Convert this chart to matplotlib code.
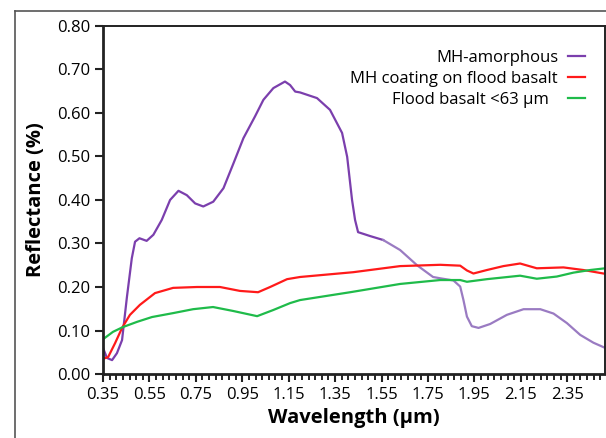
import matplotlib
matplotlib.use('Agg')
import matplotlib.pyplot as plt
from matplotlib.ticker import MultipleLocator, AutoMinorLocator, FormatStrFormatter
from matplotlib.lines import Line2D

plt.rcParams['font.family'] = ['Open Sans', 'DejaVu Sans']

# MH-amorphous
wl_mh = [0.35, 0.367, 0.389, 0.41, 0.432, 0.453, 0.474, 0.488, 0.507, 0.538, 0.567,
         0.603, 0.639, 0.675, 0.711, 0.747, 0.782, 0.825, 0.869, 0.912, 0.955, 1.005,
         1.041, 1.084, 1.134, 1.156, 1.178, 1.199, 1.272, 1.328, 1.38, 1.402, 1.423,
         1.436, 1.449, 1.501, 1.557, 1.63, 1.703, 1.772, 1.803, 1.86, 1.889, 1.903,
         1.918, 1.939, 1.968, 2.018, 2.09, 2.162, 2.234, 2.291, 2.349, 2.406, 2.463,
         2.514]
r_mh = [0.06, 0.037, 0.032, 0.048, 0.078, 0.177, 0.266, 0.304, 0.312, 0.306, 0.32,
        0.354, 0.40, 0.421, 0.411, 0.392, 0.385, 0.396, 0.427, 0.484, 0.542, 0.592,
        0.63, 0.657, 0.672, 0.664, 0.649, 0.647, 0.634, 0.607, 0.554, 0.499, 0.40,
        0.354, 0.326, 0.317, 0.308, 0.285, 0.25, 0.223, 0.22, 0.215, 0.201, 0.17,
        0.132, 0.11, 0.106, 0.115, 0.136, 0.149, 0.149, 0.139, 0.117, 0.09, 0.072,
        0.06]

# MH coating on flood basalt
wl_coat = [0.35, 0.372, 0.402, 0.432, 0.466, 0.509, 0.574, 0.652, 0.755, 0.854, 0.94,
           1.018, 1.07, 1.143, 1.199, 1.428, 1.63, 1.803, 1.889, 1.918, 1.946, 2.004,
           2.075, 2.147, 2.219, 2.334, 2.42, 2.506]
r_coat = [0.035, 0.039, 0.071, 0.106, 0.136, 0.159, 0.186, 0.198, 0.20, 0.20, 0.191,
          0.188, 0.20, 0.218, 0.223, 0.234, 0.248, 0.251, 0.249, 0.238, 0.231, 0.239,
          0.248, 0.254, 0.243, 0.245, 0.239, 0.231]

# Flood basalt <63 um
wl_fb = [0.35, 0.393, 0.436, 0.497, 0.561, 0.652, 0.738, 0.824, 0.91, 1.014, 1.083,
         1.156, 1.199, 1.415, 1.63, 1.803, 1.889, 1.918, 2.004, 2.147, 2.219, 2.305,
         2.377, 2.449, 2.514]
r_fb = [0.08, 0.097, 0.108, 0.12, 0.131, 0.14, 0.149, 0.154, 0.145, 0.133, 0.147,
        0.163, 0.17, 0.188, 0.207, 0.216, 0.216, 0.212, 0.218, 0.226, 0.219, 0.224,
        0.233, 0.239, 0.243]

fig = plt.figure(figsize=(6.06, 4.38), dpi=100)
ax = fig.add_axes([0.170, 0.146, 0.828, 0.795])

# outer frame of the original figure (left and top edges only are visible)
fx, fy = 14.5 / 606, 1 - 10.5 / 438
fig.lines.append(Line2D([fx, fx], [0, fy], transform=fig.transFigure,
                        color='#555555', lw=1.2))
fig.lines.append(Line2D([fx, 1], [fy, fy], transform=fig.transFigure,
                        color='#555555', lw=1.2))

split = 36
ax.plot(wl_mh[:split + 1], r_mh[:split + 1], color='#7b3fad', lw=1.6,
        label='MH-amorphous')
ax.plot(wl_mh[split:], r_mh[split:], color='#9a7bc2', lw=1.6)
ax.plot(wl_coat, r_coat, color='#ff1a1a', lw=1.6,
        label='MH coating on flood basalt')
ax.plot(wl_fb, r_fb, color='#1fbb4a', lw=1.6,
        label='Flood basalt <63 \u03bcm  ')

ax.set_xlim(0.35, 2.512)
ax.set_ylim(0, 0.80)
ax.xaxis.set_major_locator(MultipleLocator(0.2, offset=0.35))
ax.xaxis.set_minor_locator(AutoMinorLocator(7))
ax.yaxis.set_major_locator(MultipleLocator(0.1))
ax.xaxis.set_major_formatter(FormatStrFormatter('%.2f'))
ax.yaxis.set_major_formatter(FormatStrFormatter('%.2f'))
ax.tick_params(axis='both', which='major', direction='out', length=6,
               width=1.5, labelsize=12, color='#222222', pad=3)
ax.tick_params(axis='x', which='minor', direction='out', length=4, width=1.2)

for s in ['left', 'bottom']:
    ax.spines[s].set_linewidth(2)
for s in ['top', 'right']:
    ax.spines[s].set_linewidth(1.4)
for s in ax.spines.values():
    s.set_color('#222222')

ax.set_xlabel('Wavelength (\u03bcm)', fontsize=14.5, fontweight='bold', labelpad=4)
ax.set_ylabel('Reflectance (%)', fontsize=14.5, fontweight='bold', labelpad=8)

leg = ax.legend(loc='upper right', frameon=False, markerfirst=False,
                fontsize=12, handlelength=1.0, handletextpad=0.6,
                labelspacing=0.3, bbox_to_anchor=(0.99, 0.975))

fig.savefig('out.png', dpi=100)
